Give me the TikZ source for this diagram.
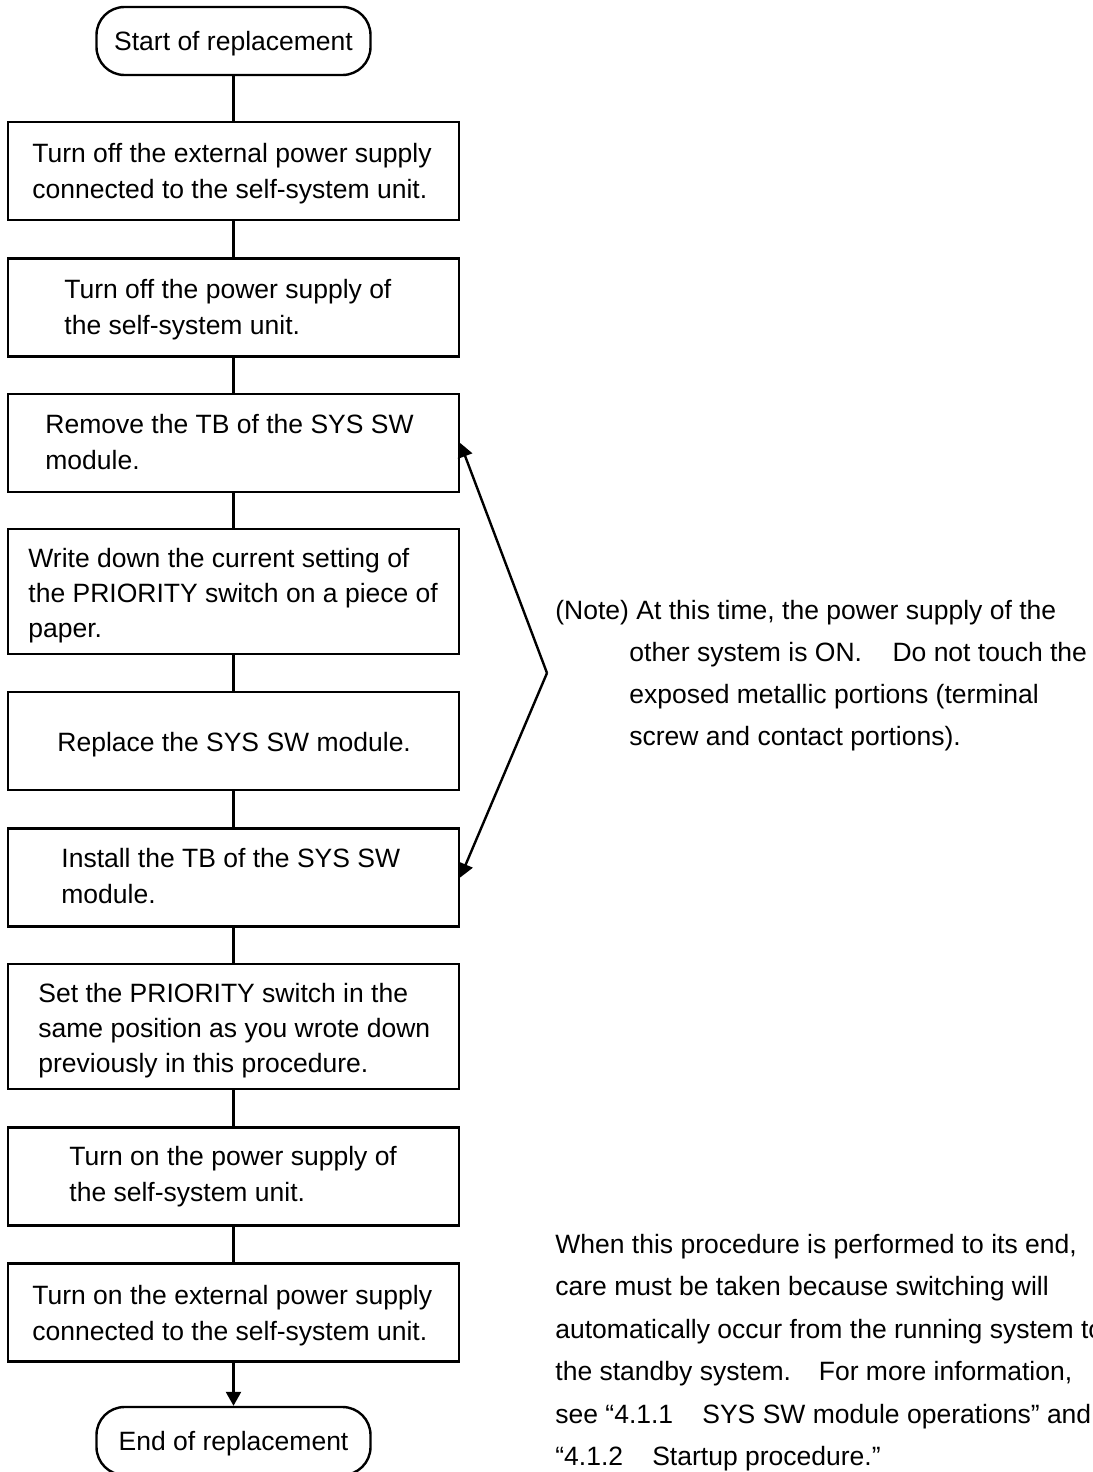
\documentclass[tikz,border=0pt]{standalone}
\usepackage{fontspec}
\setmainfont{Liberation Sans}
\usetikzlibrary{arrows.meta}
\newcommand\boxlines[2]{\parbox[t]{420pt}{\fontsize{13.25pt}{#1}\selectfont #2}}
\tikzset{
  box/.style={draw, line width=1.2pt, minimum width=225.5pt, minimum height=49pt, inner sep=0pt},
  tallbox/.style={box, minimum height=62.5pt},
  term/.style={draw, line width=1.2pt, rounded corners=14pt, minimum width=137pt, minimum height=34pt,
               inner sep=0pt, text height=9.5pt, text depth=0pt},
  txt/.style={anchor=base west, inner sep=0pt},
  link/.style={line width=1.2pt},
  arr/.style={line width=1.2pt, -{Triangle[length=7pt,width=7.5pt]}},
}
\begin{document}
\begin{tikzpicture}[x=0.5pt, y=-0.5pt, font=\fontsize{13.25pt}{18.25pt}\selectfont]
\useasboundingbox[fill=white] (0,0) rectangle (1092,1472);

% terminators
\node[term] (start) at (233.5,41) {Start of replacement};
\node[term] (end) at (233.5,1441) {End of replacement};

% process boxes
\node[box]     (b1) at (233.5,171)    {};
\node[box]     (b2) at (233.5,307.5)  {};
\node[box]     (b3) at (233.5,443)    {};
\node[tallbox] (b4) at (233.5,591.5)  {};
\node[box]     (b5) at (233.5,741)    {};
\node[box]     (b6) at (233.5,877.5)  {};
\node[tallbox] (b7) at (233.5,1026.5) {};
\node[box]     (b8) at (233.5,1176.5) {};
\node[box]     (b9) at (233.5,1312.5) {};

% box texts
\node[txt] (t1) at (32,162)  {\boxlines{18.25pt}{Turn off the external power supply\\connected to the self-system unit.}};
\node[txt] (t2) at (64,298)  {\boxlines{18.25pt}{Turn off the power supply of\\the self-system unit.}};
\node[txt] (t3) at (45,433)  {\boxlines{18.25pt}{Remove the TB of the SYS SW\\module.}};
\node[txt] (t4) at (28,567)  {\boxlines{17.5pt}{Write down the current setting of\\the PRIORITY switch on a piece of\\paper.}};
\node[txt] (t5) at (57,751)  {\boxlines{18.25pt}{Replace the SYS SW module.}};
\node[txt] (t6) at (61,867)  {\boxlines{18.25pt}{Install the TB of the SYS SW\\module.}};
\node[txt] (t7) at (38,1002) {\boxlines{17.5pt}{Set the PRIORITY switch in the\\same position as you wrote down\\previously in this procedure.}};
\node[txt] (t8) at (69,1165) {\boxlines{18.25pt}{Turn on the power supply of\\the self-system unit.}};
\node[txt] (t9) at (32,1304) {\boxlines{18.25pt}{Turn on the external power supply\\connected to the self-system unit.}};

% connectors
\draw[link] (start.south) -- (b1.north);
\draw[link] (b1.south) -- (b2.north);
\draw[link] (b2.south) -- (b3.north);
\draw[link] (b3.south) -- (b4.north);
\draw[link] (b4.south) -- (b5.north);
\draw[link] (b5.south) -- (b6.north);
\draw[link] (b6.south) -- (b7.north);
\draw[link] (b7.south) -- (b8.north);
\draw[link] (b8.south) -- (b9.north);
\draw[arr]  (b9.south) -- (end.north);

% note bracket
\coordinate (v) at (547,673);
\draw[arr] (v) -- (b3.east);
\draw[arr] (v) -- (b6.east);

% side notes
\node[txt] (note) at (555,619) {\boxlines{21pt}{(Note) At this time, the power supply of the\\
\hspace*{37pt}other system is ON.\hspace{1.15em}Do not touch the\\
\hspace*{37pt}exposed metallic portions (terminal\\
\hspace*{37pt}screw and contact portions).}};
\node[txt] (info) at (555,1253) {\boxlines{21.25pt}{When this procedure is performed to its end,\\
care must be taken because switching will\\
automatically occur from the running system to\\
the standby system.\hspace{1.05em}For more information,\\
see “4.1.1\hspace{1.1em}SYS SW module operations” and\\
“4.1.2\hspace{1.1em}Startup procedure.”}};
\end{tikzpicture}
\end{document}
